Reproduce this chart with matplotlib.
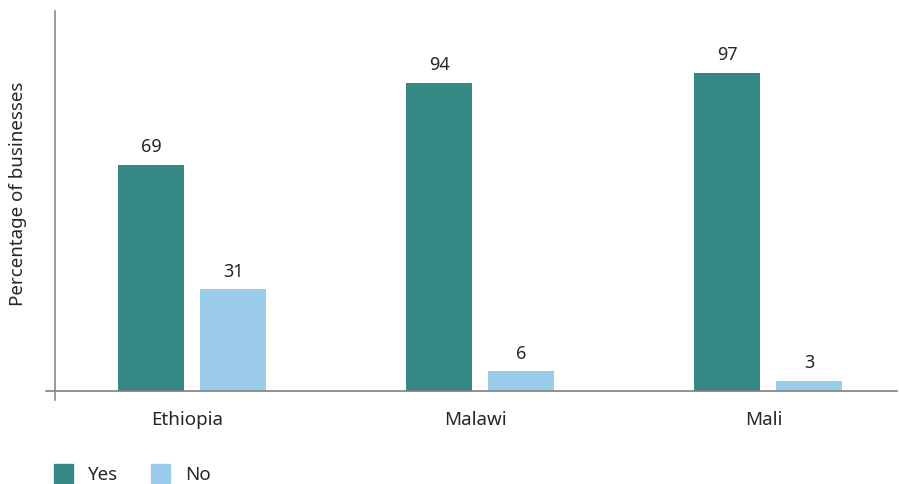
import matplotlib.pyplot as plt
import matplotlib.transforms as mtransforms
import numpy as np
from matplotlib.patches import Rectangle

plt.rcParams['font.family'] = ['Noto Sans', 'DejaVu Sans']

countries = ['Ethiopia', 'Malawi', 'Mali']
yes_vals = [69, 94, 97]
no_vals = [31, 6, 3]
series_names = ['Yes', 'No']

teal = '#358884'
light_blue = '#9BCDEA'
text_col = '#262626'

fig = plt.figure(figsize=(8.99, 4.85), dpi=100)
ax = fig.add_axes([0.0612, 0.1918, 0.937, 0.7835])

x = np.arange(len(countries))
w = 0.229
off = 0.1424
b1 = ax.bar(x - off, yes_vals, w, color=teal)
b2 = ax.bar(x + off, no_vals, w, color=light_blue)

for bars, vals in ((b1, yes_vals), (b2, no_vals)):
    for b, v in zip(bars, vals):
        ax.annotate(str(v), (b.get_x() + b.get_width() / 2, b.get_height()),
                    xytext=(0, 7), textcoords='offset points',
                    ha='center', va='bottom', fontsize=13, color=text_col)

ax.set_xlim(-0.476, 2.448)
ax.set_ylim(0, 116)

for s in ax.spines.values():
    s.set_visible(False)
# axis lines crossing at the origin
ax.plot([-0.011, 1], [0, 0], transform=ax.transAxes, color='#7f7f7f',
        lw=1.2, clip_on=False)
ax.plot([0, 0], [-0.025, 1], transform=ax.transAxes, color='#8a8a8a',
        lw=1.2, clip_on=False)

ax.set_yticks([])
ax.set_xticks(x)
ax.set_xticklabels(countries, fontsize=13.5, color=text_col)
ax.tick_params(axis='x', length=0, pad=14)
shift = mtransforms.ScaledTranslation(-5 / 100, 0, fig.dpi_scale_trans)
for lab in ax.get_xticklabels():
    lab.set_transform(lab.get_transform() + shift)

fig.text(18 / 899, 1 - 194 / 485, 'Percentage of businesses', rotation=90,
         fontsize=13.5, color=text_col, ha='center', va='center')

# legend
for i, (name, col) in enumerate(zip(series_names, [teal, light_blue])):
    x0 = 54 + i * 97
    fig.patches.append(Rectangle((x0 / 899, 1 - 484 / 485), 19 / 899, 19 / 485,
                                 transform=fig.transFigure, color=col))
    fig.text((x0 + 34) / 899, 1 - 475 / 485, name, fontsize=13.5,
             color=text_col, va='center', ha='left')

fig.savefig('out.png', dpi=100, facecolor='white')
